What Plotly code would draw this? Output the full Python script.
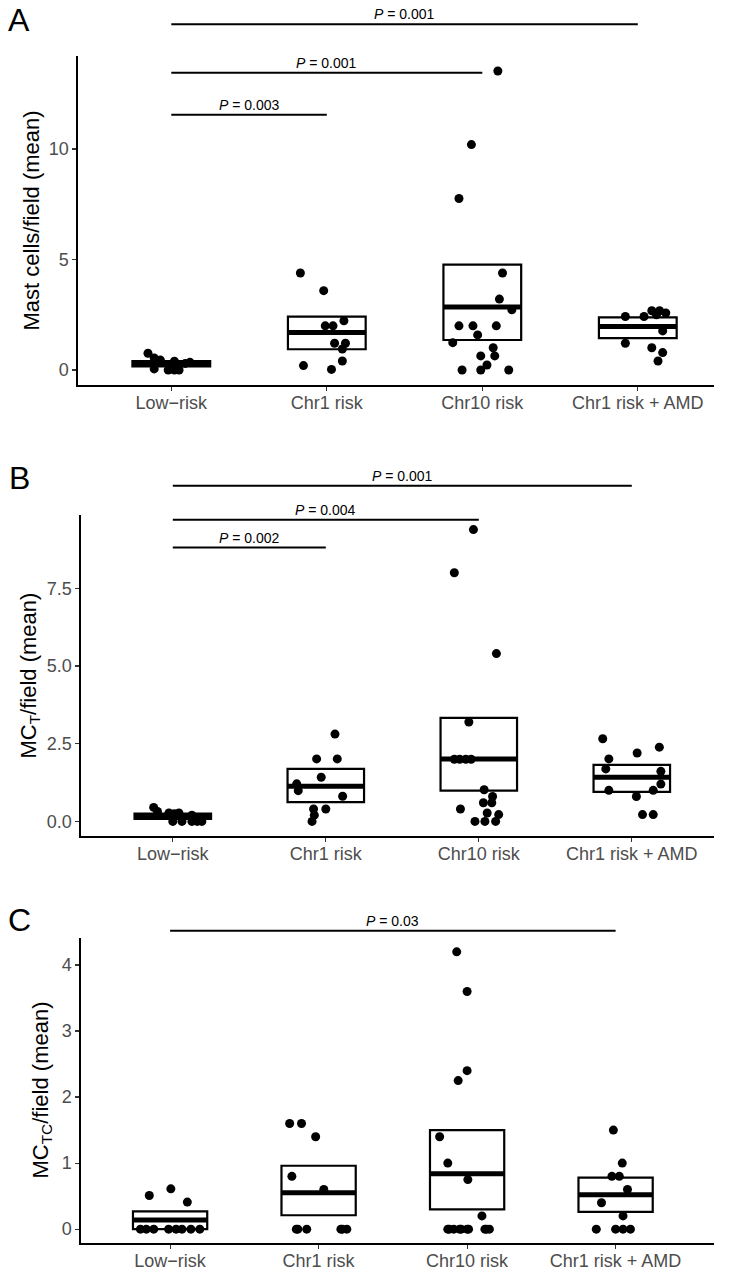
import plotly.graph_objects as go

categories = ["Low\u2212risk", "Chr1 risk", "Chr10 risk", "Chr1 risk + AMD"]

# ---------------- Panel A: Mast cells/field (mean) ----------------
a_low = [0.76, 0.55, 0.45, 0.40, 0.35, 0.30, 0.25, 0.05, 0.0, 0.0, 0.0]
a_low_jit = [-0.15, -0.11, -0.07, 0.02, 0.12, 0.09, 0.05, -0.11, -0.02, 0.02, 0.05]
a_chr1 = [4.39, 3.59, 2.23, 2.0, 2.0, 1.21, 1.21, 0.95, 0.41, 0.2, 0.03]
a_chr1_jit = [-0.17, -0.02, 0.11, -0.01, 0.04, 0.05, 0.12, 0.10, 0.10, -0.15, 0.03]
a_chr10 = [13.53, 10.2, 7.76, 4.39, 3.21, 2.73, 2.0, 2.0, 2.0, 1.59, 1.24, 1.01,
           0.64, 0.64, 0.23, 0.0, 0.0, 0.0]
a_chr10_jit = [0.10, -0.07, -0.15, 0.13, 0.11, 0.19, -0.15, -0.06, 0.09, -0.03,
               -0.19, 0.07, -0.01, 0.08, 0.03, -0.13, -0.01, 0.17]
a_amd = [2.42, 2.42, 2.68, 2.68, 2.58, 2.5, 1.77, 1.21, 1.01, 0.79, 0.41]
a_amd_jit = [-0.08, 0.04, 0.09, 0.14, 0.18, 0.12, 0.16, -0.08, 0.09, 0.16, 0.13]
a_box_low = [0.17, 0.94, 1.36, 1.44]
a_box_mid = [0.28, 1.70, 2.85, 1.97]
a_box_high = [0.40, 2.42, 4.77, 2.38]
a_sig_to = [3, 2, 1]
a_sig_y = [15.64, 13.45, 11.55]
a_sig_p = ["0.001", "0.001", "0.003"]

# ---------------- Panel B: MC_T/field (mean) ----------------
b_low = [0.45, 0.32, 0.27, 0.25, 0.27, 0.2, 0.0, 0.0, 0.0, 0.0, 0.0]
b_low_jit = [-0.125, -0.1, -0.025, 0.01, 0.04, 0.125, 0.06, 0.0, 0.125, 0.16, 0.19]
b_chr1 = [2.81, 2.01, 2.01, 1.42, 1.21, 0.99, 0.81, 0.40, 0.40, 0.2, 0.0]
b_chr1_jit = [0.06, -0.06, 0.075, -0.03, -0.19, -0.18, 0.11, -0.08, 0.0, -0.075, -0.09]
b_chr10 = [9.39, 8.0, 5.4, 3.2, 2.0, 2.0, 2.0, 2.0, 1.02, 0.8, 0.6, 0.6,
           0.4, 0.27, 0.22, 0.0, 0.0, 0.0]
b_chr10_jit = [-0.035, -0.16, 0.115, -0.065, -0.16, -0.125, -0.085, -0.05, 0.035,
               0.09, 0.03, 0.085, -0.12, 0.055, 0.13, -0.025, 0.04, 0.11]
b_amd = [2.66, 2.39, 2.2, 2.01, 1.69, 1.61, 1.2, 1.0, 1.0, 0.8, 0.22, 0.22]
b_amd_jit = [-0.19, 0.18, 0.035, -0.15, -0.17, 0.19, 0.19, -0.15, 0.14, 0.03, 0.07, 0.14]
b_box_low = [0.08, 0.62, 0.99, 0.95]
b_box_mid = [0.17, 1.13, 2.01, 1.42]
b_box_high = [0.25, 1.69, 3.33, 1.82]
b_sig_to = [3, 2, 1]
b_sig_y = [10.8, 9.71, 8.81]
b_sig_p = ["0.001", "0.004", "0.002"]

# ---------------- Panel C: MC_TC/field (mean) ----------------
c_low = [0.51, 0.61, 0.41, 0.0, 0.0, 0.0, 0.0, 0.0, 0.0, 0.0, 0.0]
c_low_jit = [-0.14, 0.005, 0.116, -0.2, -0.16, -0.11, -0.01, 0.04, 0.08, 0.14, 0.2]
c_chr1 = [1.6, 1.6, 1.4, 0.8, 0.6, 0.0, 0.0, 0.0, 0.0, 0.0, 0.0]
c_chr1_jit = [-0.195, -0.115, -0.02, -0.18, 0.035, -0.15, -0.08, 0.15, 0.19, -0.14, 0.16]
c_chr10 = [4.2, 3.6, 2.4, 2.25, 1.4, 1.0, 0.75, 0.2, 0.0, 0.0, 0.0, 0.0, 0.0, 0.0,
           0.0, 0.0, 0.0, 0.0]
c_chr10_jit = [-0.07, 0.0, 0.0, -0.06, -0.185, -0.13, 0.005, 0.1, -0.13, -0.09,
               -0.04, 0.01, 0.12, 0.15, -0.12, -0.05, 0.13, 0.0]
c_amd = [1.5, 1.0, 0.8, 0.8, 0.6, 0.4, 0.2, 0.0, 0.0, 0.0, 0.0]
c_amd_jit = [-0.015, 0.045, -0.025, 0.025, 0.08, -0.095, 0.05, -0.13, 0.0, 0.05, 0.1]
c_box_low = [0.0, 0.21, 0.30, 0.26]
c_box_mid = [0.14, 0.55, 0.84, 0.52]
c_box_high = [0.27, 0.96, 1.50, 0.78]
c_sig_to = [3]
c_sig_y = [4.52]
c_sig_p = ["0.03"]

W, H = 742, 1270
FONT = "Liberation Sans, Arial, sans-serif"
BOXW = 0.5
XLEFT = -0.6

panels = [
    dict(letter="A", title="Mast cells/field (mean)",
         groups=[(a_low, a_low_jit), (a_chr1, a_chr1_jit), (a_chr10, a_chr10_jit), (a_amd, a_amd_jit)],
         box=(a_box_low, a_box_mid, a_box_high), sig=(a_sig_to, a_sig_y, a_sig_p),
         px=(78, 714, 56, 385), step=155.5, tickvals=[0, 5, 10], fmt="d",
         letter_y=20, title_x=31),
    dict(letter="B", title="MC<sub>T</sub>/field (mean)",
         groups=[(b_low, b_low_jit), (b_chr1, b_chr1_jit), (b_chr10, b_chr10_jit), (b_amd, b_amd_jit)],
         box=(b_box_low, b_box_mid, b_box_high), sig=(b_sig_to, b_sig_y, b_sig_p),
         px=(81, 714, 515, 836), step=153.0, tickvals=[0, 2.5, 5, 7.5], fmt=".1f",
         letter_y=478, title_x=29),
    dict(letter="C", title="MC<sub>TC</sub>/field (mean)",
         groups=[(c_low, c_low_jit), (c_chr1, c_chr1_jit), (c_chr10, c_chr10_jit), (c_amd, c_amd_jit)],
         box=(c_box_low, c_box_mid, c_box_high), sig=(c_sig_to, c_sig_y, c_sig_p),
         px=(81, 714, 938, 1243), step=148.5, tickvals=[0, 1, 2, 3, 4], fmt="d",
         letter_y=920, title_x=41),
]

fig = go.Figure()
shapes, annotations = [], []
layout = {}

for k, p in enumerate(panels, start=1):
    sfx = "" if k == 1 else str(k)
    xa, ya = "x" + sfx, "y" + sfx
    lo, mid, hi = p["box"]
    idx = list(range(len(categories)))
    x0, x1, y0, y1 = p["px"]
    XR = [XLEFT, XLEFT + (x1 - x0) / p["step"]]

    # y range with 5% expansion (ggplot style)
    allv = [v for g, _ in p["groups"] for v in g]
    vmin, vmax = min(allv), max(allv)
    pad = 0.05 * (vmax - vmin)
    yr = [vmin - pad, vmax + pad]

    # crossbar boxes
    fig.add_trace(go.Bar(x=idx, base=lo, y=[h - l for h, l in zip(hi, lo)], width=BOXW,
                         marker=dict(color="white", line=dict(color="black", width=2.2)),
                         xaxis=xa, yaxis=ya, showlegend=False, hoverinfo="skip"))
    mx, my = [], []
    for i, m in zip(idx, mid):
        mx += [i - BOXW / 2, i + BOXW / 2, None]
        my += [m, m, None]
    fig.add_trace(go.Scatter(x=mx, y=my, mode="lines", line=dict(color="black", width=5),
                             xaxis=xa, yaxis=ya, showlegend=False, hoverinfo="skip"))
    # jittered points
    for i, (vals, jit) in zip(idx, p["groups"]):
        fig.add_trace(go.Scatter(x=[i + d for d in jit], y=vals, mode="markers",
                                 marker=dict(color="black", size=9),
                                 xaxis=xa, yaxis=ya, showlegend=False, cliponaxis=False))

    layout["xaxis" + sfx] = dict(
        domain=[x0 / W, x1 / W], range=XR, anchor=ya, tickmode="array",
        tickvals=idx, ticktext=categories, showline=True, linecolor="black", linewidth=1.6,
        ticks="outside", ticklen=4, tickwidth=1.2, tickcolor="#333333",
        ticklabelstandoff=-3,
        tickfont=dict(family=FONT, size=18, color="#4D4D4D"), showgrid=False,
        zeroline=False, fixedrange=True)
    layout["yaxis" + sfx] = dict(
        domain=[1 - y1 / H, 1 - y0 / H], range=yr, anchor=xa,
        tickmode="array", tickvals=p["tickvals"], tickformat=p["fmt"], showline=True,
        linecolor="black", linewidth=1.6, ticks="outside", ticklen=4, tickwidth=1.2,
        tickcolor="#333333", tickfont=dict(family=FONT, size=18, color="#4D4D4D"),
        showgrid=False, zeroline=False, fixedrange=True)

    # significance brackets (domain-referenced so they may sit above the panel)
    to_list, y_list, p_list = p["sig"]
    for j, yv, ptxt in zip(to_list, y_list, p_list):
        fx0 = (0 - XR[0]) / (XR[1] - XR[0])
        fx1 = (j - XR[0]) / (XR[1] - XR[0])
        fy = (yv - yr[0]) / (yr[1] - yr[0])
        shapes.append(dict(type="line", xref=xa + " domain", yref=ya + " domain",
                           x0=fx0, x1=fx1, y0=fy, y1=fy,
                           line=dict(color="black", width=2)))
        annotations.append(dict(xref=xa + " domain", yref=ya + " domain",
                                x=(fx0 + fx1) / 2, y=fy, yanchor="bottom", xanchor="center",
                                text="<i>P</i> = " + ptxt, showarrow=False, yshift=0,
                                font=dict(family=FONT, size=14, color="black")))

    # y-axis title
    annotations.append(dict(xref="paper", yref="paper", x=p["title_x"] / W,
                            y=1 - (y0 + y1) / 2 / H, text=p["title"], textangle=-90,
                            showarrow=False, xanchor="center", yanchor="middle",
                            font=dict(family=FONT, size=22, color="black")))
    # panel letter
    annotations.append(dict(xref="paper", yref="paper", x=19 / W,
                            y=1 - p["letter_y"] / H,
                            text=p["letter"], showarrow=False, xanchor="center",
                            yanchor="middle", font=dict(family=FONT, size=32, color="black")))

fig.update_layout(
    width=W, height=H, margin=dict(l=0, r=0, t=0, b=0),
    paper_bgcolor="white", plot_bgcolor="white", barmode="overlay",
    shapes=shapes, annotations=annotations, showlegend=False, **layout)

fig.write_html("out.html", config={"displayModeBar": False, "staticPlot": True},
               post_script="document.body.style.margin='0';document.body.style.overflow='hidden';")
